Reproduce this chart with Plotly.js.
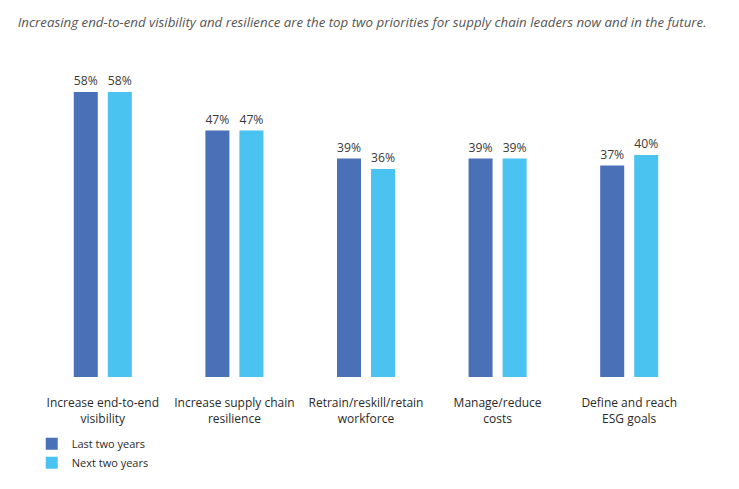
<!DOCTYPE html>
<html>
<head>
<meta charset="utf-8">
<script src="https://cdn.plot.ly/plotly-3.0.1.min.js"></script>
<style>html,body{margin:0;padding:0;background:#fff;}#chart{width:739px;height:489px;}</style>
</head>
<body>
<div id="chart"></div>
<script>
const categories = [
  "Increase end-to-end<br>visibility",
  "Increase supply chain<br>resilience",
  "Retrain/reskill/retain<br>workforce",
  "Manage/reduce<br>costs",
  "Define and reach<br>ESG goals"
];
const seriesNames = ["Last two years", "Next two years"];
const lastTwoYears = [58, 47, 39, 39, 37];
const nextTwoYears = [58, 47, 36, 39, 40];
const titleText = "Increasing end-to-end visibility and resilience are the top two priorities for supply chain leaders now and in the future.";

const BASE = -23.6;  // visual bar floor used in the original design
const colors = ["#4a71b8", "#4bc3f1"];
const fontFam = "'Open Sans', 'Noto Sans', sans-serif";

function makeTrace(name, vals, color) {
  return {
    type: "bar",
    name: name,
    x: categories,
    y: vals.map(v => v - BASE),
    base: BASE,
    marker: {color: color},
    text: vals.map(v => v + "%"),
    textposition: "outside",
    cliponaxis: false,
    textfont: {family: fontFam, size: 12.5, color: "#3a3a3a"},
    hoverinfo: "skip"
  };
}

const data = [
  makeTrace(seriesNames[0], lastTwoYears, colors[0]),
  makeTrace(seriesNames[1], nextTwoYears, colors[1])
];

const layout = {
  width: 739, height: 489,
  margin: {l: 37, r: 44, t: 60, b: 103},
  paper_bgcolor: "#fff", plot_bgcolor: "#fff",
  font: {family: fontFam, color: "#2a2a2a", size: 12},
  title: {
    text: titleText,
    x: 0.024, xanchor: "left", xref: "container",
    y: 0.955, yanchor: "middle", yref: "container",
    font: {family: fontFam, size: 13.3, color: "#555", style: "italic"}
  },
  barmode: "group",
  bargap: 0.483,
  bargroupgap: 0.294,
  xaxis: {
    type: "category",
    showgrid: false, zeroline: false, showline: false,
    ticks: "", ticklabelstandoff: 17,
    tickfont: {family: fontFam, size: 12, color: "#2a2a2a"}
  },
  yaxis: {
    range: [BASE, 67.2],
    visible: false, showgrid: false, zeroline: false
  },
  showlegend: true,
  legend: {
    x: -0.008, xanchor: "left", y: -0.165, yanchor: "top",
    orientation: "v", traceorder: "normal",
    font: {family: fontFam, size: 11, color: "#2a2a2a"},
    itemwidth: 30, tracegroupgap: 0,
    bgcolor: "rgba(0,0,0,0)"
  }
};

Plotly.newPlot("chart", data, layout, {displayModeBar: false, staticPlot: true});
</script>
</body>
</html>
